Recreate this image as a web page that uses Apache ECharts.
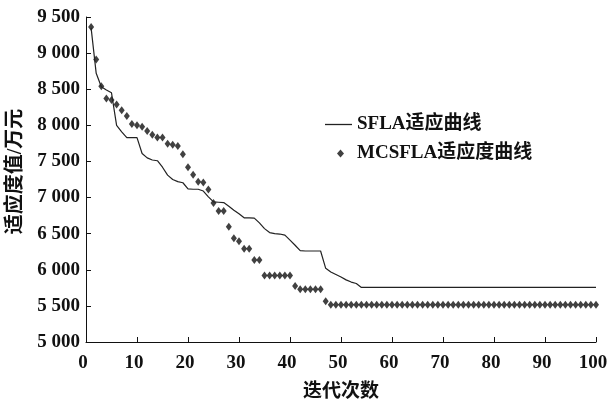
<!DOCTYPE html>
<html>
<head>
<meta charset="utf-8">
<script src="https://cdn.jsdelivr.net/npm/echarts@6/dist/echarts.min.js"></script>
<style>html,body{margin:0;padding:0;background:#fff}#c{width:608px;height:401px}</style>
</head>
<body>
<div id="c"></div>
<script>
// Iteration numbers 1..100
var iterations = [1,2,3,4,5,6,7,8,9,10,11,12,13,14,15,16,17,18,19,20,21,22,23,24,25,26,27,28,29,30,31,32,33,34,35,36,37,38,39,40,41,42,43,44,45,46,47,48,49,50,51,52,53,54,55,56,57,58,59,60,61,62,63,64,65,66,67,68,69,70,71,72,73,74,75,76,77,78,79,80,81,82,83,84,85,86,87,88,89,90,91,92,93,94,95,96,97,98,99,100];

var seriesNames = ['SFLA适应曲线', 'MCSFLA适应度曲线'];

// SFLA fitness (万元)
var sflaValues = [9350,8720,8535,8490,8450,8000,7910,7830,7830,7830,
  7610,7550,7520,7510,7420,7310,7250,7220,7205,7120,
  7115,7115,7090,7010,6940,6935,6930,6880,6825,6775,
  6720,6720,6715,6650,6570,6515,6500,6495,6480,6410,
  6340,6265,6260,6260,6260,6260,6020,5970,5935,5900,
  5860,5830,5810,5755,5755,5755,5755,5755,5755,5755,
  5755,5755,5755,5755,5755,5755,5755,5755,5755,5755,
  5755,5755,5755,5755,5755,5755,5755,5755,5755,5755,
  5755,5755,5755,5755,5755,5755,5755,5755,5755,5755,
  5755,5755,5755,5755,5755,5755,5755,5755,5755,5755];

// MCSFLA fitness (万元)
var mcsflaValues = [9360,8910,8540,8370,8350,8290,8210,8130,8020,8000,
  7980,7920,7870,7830,7830,7745,7730,7715,7600,7420,
  7315,7220,7210,7110,6925,6815,6815,6595,6435,6395,
  6290,6290,6135,6135,5920,5920,5920,5920,5920,5920,
  5775,5730,5730,5730,5730,5730,5565,5515,5515,5515,
  5515,5515,5515,5515,5515,5515,5515,5515,5515,5515,
  5515,5515,5515,5515,5515,5515,5515,5515,5515,5515,
  5515,5515,5515,5515,5515,5515,5515,5515,5515,5515,
  5515,5515,5515,5515,5515,5515,5515,5515,5515,5515,
  5515,5515,5515,5515,5515,5515,5515,5515,5515,5515];

var xAxisName = '迭代次数';
var yAxisName = '适应度值/万元';
var xMin = 0, xMax = 100, xStep = 10;
var yMin = 5000, yMax = 9500, yStep = 500;

var FONT = "'Liberation Serif','Noto Sans CJK SC',serif";
var legendText = {fontFamily: FONT, fontSize: 19, fontWeight: 'bold', color: '#111'};

function pairs(vals) {
  return vals.map(function (v, i) { return [iterations[i], v]; });
}

var chart = echarts.init(document.getElementById('c'), null, {renderer: 'canvas'});
chart.setOption({
  animation: false,
  backgroundColor: '#fff',
  grid: {left: 86, right: 12, top: 17, bottom: 59, containLabel: false, outerBoundsMode: 'none'},
  legend: [
    {
      left: 325, top: 115, padding: 0,
      itemWidth: 27, itemHeight: 1.3,
      textStyle: legendText,
      data: [{name: seriesNames[0], icon: 'rect', itemStyle: {color: '#222'}}]
    },
    {
      left: 337, top: 144, padding: 0,
      itemWidth: 7, itemHeight: 8,
      textStyle: Object.assign({padding: [0, 0, 0, 8]}, legendText),
      data: [{name: seriesNames[1], icon: 'diamond'}]
    }
  ],
  xAxis: {
    type: 'value', min: xMin, max: xMax, interval: xStep,
    name: xAxisName, nameLocation: 'middle', nameGap: 41,
    nameTextStyle: {fontFamily: FONT, fontSize: 19, fontWeight: 'bold', color: '#111'},
    axisLine: {show: true, lineStyle: {color: '#111', width: 1}},
    axisTick: {show: true, inside: true, length: 5, lineStyle: {color: '#111'}},
    axisLabel: {fontFamily: FONT, fontSize: 19, fontWeight: 'bold', color: '#111', margin: 12, padding: [0, 6, 0, 0]},
    splitLine: {show: false}
  },
  yAxis: {
    type: 'value', min: yMin, max: yMax, interval: yStep,
    name: yAxisName, nameLocation: 'middle', nameGap: 60, nameRotate: 90,
    nameTextStyle: {fontFamily: FONT, fontSize: 20, fontWeight: 'bold', color: '#111', padding: [0, 0, 0, 16]},
    axisLine: {show: true, lineStyle: {color: '#111', width: 1}},
    axisTick: {show: true, inside: true, length: 5, lineStyle: {color: '#111'}},
    axisLabel: {
      fontFamily: FONT, fontSize: 19, fontWeight: 'bold', color: '#111', margin: 6,
      formatter: function (v) { return String(v).replace(/\B(?=(\d{3})+(?!\d))/g, ' '); }
    },
    splitLine: {show: false}
  },
  series: [
    {
      name: seriesNames[0], type: 'line', data: pairs(sflaValues),
      symbol: 'none', showSymbol: false,
      lineStyle: {color: '#222', width: 1.2},
      itemStyle: {color: '#222'}
    },
    {
      name: seriesNames[1], type: 'scatter', data: pairs(mcsflaValues),
      symbol: 'diamond', symbolSize: [6, 8],
      itemStyle: {color: '#111'}
    }
  ]
});
</script>
</body>
</html>
